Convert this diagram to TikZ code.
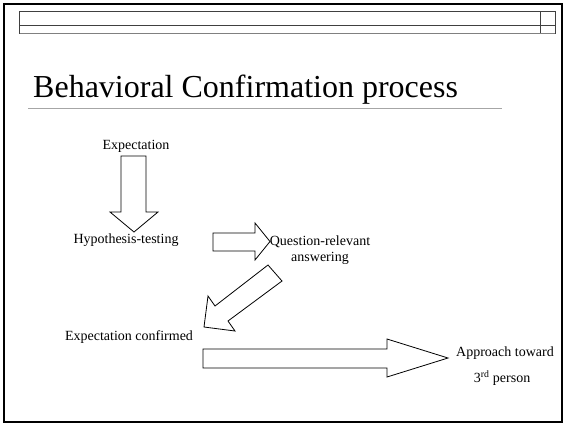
\documentclass[tikz,border=0pt]{standalone}
\usepackage{fontspec}
\setmainfont{Liberation Serif}
\usetikzlibrary{positioning}

\begin{document}
\begin{tikzpicture}[x=1pt,y=-1pt,
  step text/.style={font=\fontsize{14}{16}\selectfont, inner sep=0pt},
  block arrow/.style={draw=black, line width=0.8pt, fill=white, line join=miter}]
\useasboundingbox (0,0) rectangle (564,424);

% slide frame and header bar
\draw [line width=2.5pt] (4,4) rectangle (562,422);
\draw [black!75, line width=0.8pt] (19.5,11.7) rectangle (555,33.3)
  (19.5,25.7) -- (555,25.7) (540,11.7) -- (540,33.3);
\draw [gray, line width=1.2pt] (19.5,33.3) -- (555,33.3);

\node [anchor=base west, inner sep=0pt, font=\fontsize{32}{38}\selectfont]
  (title) at (33,97) {Behavioral Confirmation process};
\draw [gray!70, line width=1pt] (28,108) -- (502,108);

% steps
\node [step text] (expect) at (136,146) {Expectation};
\node [step text] (hypo) at (126,240) {Hypothesis-testing};
\node [step text, align=center] (quest) at (320,250) {Question-relevant\\answering};
\node [step text] (confirm) at (129,337) {Expectation confirmed};
\node [step text] (approach) at (505,353) {Approach toward};
\node [step text] (third) at (502,378) {3\textsuperscript{rd} person};

% block arrows
\draw [block arrow] (121,156) -- (146,156) -- (146,212) -- (158,212)
  -- (134,232) -- (110,212) -- (121,212) -- cycle;
\draw [block arrow] (213,233) -- (255,233) -- (255,223) -- (270,241.5)
  -- (255,260) -- (255,251) -- (213,251) -- cycle;
\draw [block arrow] (268,265) -- (282,281) -- (228,321) -- (235,331)
  -- (204,327) -- (208,296) -- (215,306) -- cycle;
\draw [block arrow] (203,349) -- (387,349) -- (387,339) -- (448,358)
  -- (387,377) -- (387,368) -- (203,368) -- cycle;

\end{tikzpicture}
\end{document}
